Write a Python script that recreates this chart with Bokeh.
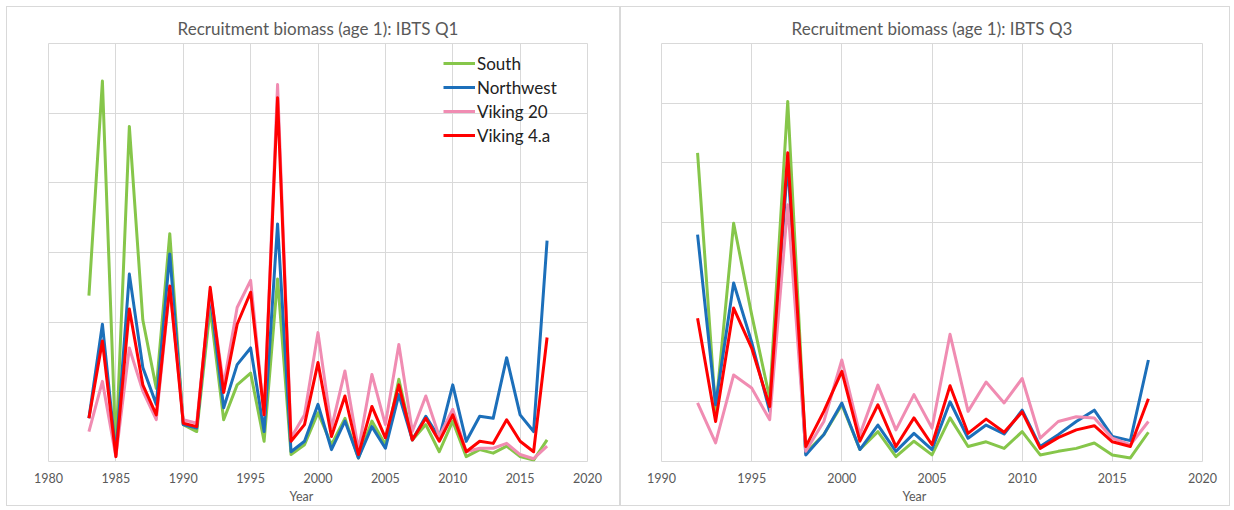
from bokeh.plotting import figure
from bokeh.layouts import row
from bokeh.models import Range1d, FixedTicker, Legend, LegendItem, Title
from bokeh.embed import file_html
from bokeh.resources import INLINE

# ---- data (relative biomass units) ----
series_names = ["South", "Northwest", "Viking 20", "Viking 4.a"]
series_colors = ["#86c64a", "#1c6fba", "#f08cb2", "#ff0000"]

years_q1 = [1983, 1984, 1985, 1986, 1987, 1988, 1989, 1990, 1991, 1992,
            1993, 1994, 1995, 1996, 1997, 1998, 1999, 2000, 2001, 2002,
            2003, 2004, 2005, 2006, 2007, 2008, 2009, 2010, 2011, 2012,
            2013, 2014, 2015, 2016, 2017]
south_q1 = [2.38, 5.46, 0.15, 4.81, 2.03, 1.05, 3.27, 0.53, 0.43, 2.2,
            0.6, 1.1, 1.27, 0.29, 2.62, 0.1, 0.24, 0.7, 0.24, 0.62,
            0.05, 0.58, 0.24, 1.18, 0.31, 0.53, 0.14, 0.58, 0.07, 0.17,
            0.12, 0.22, 0.07, 0.02, 0.31]
northwest_q1 = [0.62, 1.97, 0.1, 2.69, 1.35, 0.82, 2.98, 0.53, 0.48, 2.4,
                0.77, 1.39, 1.63, 0.43, 3.41, 0.14, 0.29, 0.82, 0.17, 0.58,
                0.05, 0.5, 0.19, 0.96, 0.31, 0.65, 0.34, 1.1, 0.29, 0.65,
                0.62, 1.49, 0.67, 0.43, 3.17]
viking20_q1 = [0.43, 1.15, 0.07, 1.63, 1.01, 0.6, 2.5, 0.6, 0.55, 2.45,
               1.1, 2.21, 2.6, 0.67, 5.41, 0.34, 0.67, 1.85, 0.48, 1.3,
               0.17, 1.25, 0.53, 1.68, 0.43, 0.94, 0.36, 0.75, 0.14, 0.19,
               0.19, 0.26, 0.1, 0.04, 0.22]
viking4a_q1 = [0.62, 1.73, 0.07, 2.19, 1.1, 0.67, 2.52, 0.55, 0.5, 2.5,
               0.99, 1.97, 2.43, 0.67, 5.22, 0.29, 0.53, 1.42, 0.36, 0.94,
               0.1, 0.79, 0.34, 1.1, 0.31, 0.62, 0.29, 0.67, 0.14, 0.29,
               0.26, 0.6, 0.29, 0.14, 1.78]

years_q3 = [1992, 1993, 1994, 1995, 1996, 1997, 1998, 1999, 2000, 2001,
            2002, 2003, 2004, 2005, 2006, 2007, 2008, 2009, 2010, 2011,
            2012, 2013, 2014, 2015, 2016, 2017]
south_q3 = [5.17, 0.85, 3.99, 2.46, 1.06, 6.03, 0.14, 0.45, 0.95, 0.2,
            0.5, 0.08, 0.34, 0.11, 0.73, 0.25, 0.33, 0.22, 0.5, 0.11,
            0.17, 0.22, 0.31, 0.11, 0.06, 0.49]
northwest_q3 = [3.8, 0.95, 2.99, 2.0, 0.84, 5.0, 0.11, 0.45, 0.98, 0.2,
                0.61, 0.17, 0.47, 0.2, 1.0, 0.39, 0.61, 0.46, 0.86, 0.25,
                0.45, 0.67, 0.86, 0.42, 0.35, 1.7]
viking20_q3 = [0.98, 0.31, 1.45, 1.23, 0.7, 4.3, 0.17, 0.67, 1.7, 0.45,
               1.28, 0.53, 1.12, 0.56, 2.13, 0.84, 1.33, 0.98, 1.39, 0.39,
               0.67, 0.75, 0.73, 0.39, 0.28, 0.67]
viking4a_q3 = [2.4, 0.67, 2.57, 1.9, 0.92, 5.17, 0.25, 0.84, 1.51, 0.34,
               0.95, 0.25, 0.73, 0.28, 1.27, 0.47, 0.71, 0.49, 0.83, 0.22,
               0.4, 0.53, 0.6, 0.33, 0.25, 1.05]

x_ticks_q1 = [1980, 1985, 1990, 1995, 2000, 2005, 2010, 2015, 2020]
x_ticks_q3 = [1990, 1995, 2000, 2005, 2010, 2015, 2020]

FONT = "Lato"
GRID = "#d9d9d9"
TXT = "#595959"


def make_panel(title, years, data, xr, yr_max, xticks, width, mb_left, mb_right,
               margin, legend):
    p = figure(width=width, height=500, output_backend="svg", toolbar_location=None,
               x_range=Range1d(*xr), y_range=Range1d(0, yr_max),
               min_border_left=mb_left, min_border_right=mb_right,
               min_border_top=36, min_border_bottom=46,
               title=title, margin=margin)
    p.styles = {"border": "1px solid #d9d9d9"}
    p.title.align = "center"
    p.title.text_font = FONT
    p.title.text_font_size = "17px"
    p.title.text_font_style = "normal"
    p.title.text_color = TXT
    p.outline_line_color = GRID
    p.outline_line_width = 1
    p.xaxis.ticker = FixedTicker(ticks=xticks)
    p.yaxis.ticker = FixedTicker(ticks=list(range(0, yr_max + 1)))
    p.yaxis.visible = False
    p.xaxis.axis_line_color = None
    p.xaxis.major_tick_line_color = None
    p.xaxis.minor_tick_line_color = None
    p.xaxis.major_label_text_font = FONT
    p.xaxis.major_label_text_font_size = "12.5px"
    p.xaxis.major_label_text_color = TXT
    p.xaxis.major_label_standoff = 5
    p.xgrid.grid_line_color = GRID
    p.ygrid.grid_line_color = GRID
    items = []
    for name, color, vals in zip(series_names, series_colors, data):
        r = p.line(years, vals, line_color=color, line_width=3, line_join="round")
        items.append(LegendItem(label=name, renderers=[r]))
    p.add_layout(Title(text="Year", align="left", offset=241, standoff=3,
                       text_font=FONT, text_font_size="12.5px",
                       text_font_style="normal", text_color=TXT), "below")
    if legend:
        lg = Legend(items=items, location=(395, 314), margin=0, padding=0,
                    spacing=0, glyph_width=32, glyph_height=24, label_height=24,
                    label_standoff=2, background_fill_alpha=0, border_line_color=None,
                    label_text_font=FONT, label_text_font_size="17px",
                    label_text_color="#222222")
        p.add_layout(lg)
    return p


p1 = make_panel("Recruitment biomass (age 1): IBTS Q1", years_q1,
                [south_q1, northwest_q1, viking20_q1, viking4a_q1],
                (1980, 2020), 6, x_ticks_q1, 614, 41, 34, (6, 0, 0, 6), True)
p2 = make_panel("Recruitment biomass (age 1): IBTS Q3", years_q3,
                [south_q3, northwest_q3, viking20_q3, viking4a_q3],
                (1990, 2020), 7, x_ticks_q3, 610, 40, 29, (6, 0, 0, 0), False)

layout = row(p1, p2)
open("out.html", "w").write(file_html(layout, INLINE))
